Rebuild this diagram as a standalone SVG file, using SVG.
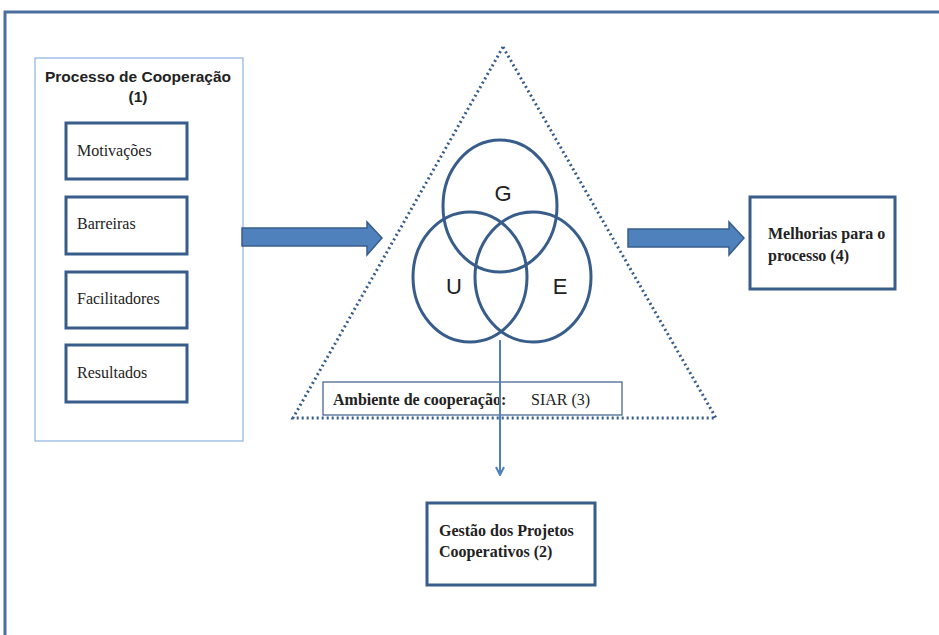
<svg xmlns="http://www.w3.org/2000/svg" width="939" height="635" viewBox="0 0 939 635">
<defs>
<style>
.frame{fill:none;stroke:#4a6f9c;stroke-width:3}
.thin{fill:#fff;stroke:#8db3e2;stroke-width:1.2}
.box{fill:#fff;stroke:#385d8a;stroke-width:3}
.sbox{fill:#fff;stroke:#385d8a;stroke-width:1.2}
.blk{fill:#4f81bd;stroke:#385d8a;stroke-width:1.5}
.ring{fill:none;stroke:#385d8a;stroke-width:3}
.dot{fill:none;stroke:#385d8a;stroke-width:3;stroke-dasharray:2 3}
.t{font-family:"Liberation Serif",serif;font-size:16px;fill:#222}
.tb{font-family:"Liberation Serif",serif;font-size:16px;font-weight:bold;fill:#222}
.ts{font-family:"Liberation Sans",Arial,sans-serif;font-size:15.5px;font-weight:bold;fill:#222}
.L{font-family:"Liberation Sans",Arial,sans-serif;font-size:22px;fill:#222}
</style>
<marker id="ah" markerWidth="10" markerHeight="10" refX="8" refY="5" orient="auto" markerUnits="userSpaceOnUse">
<path d="M1,1 L9,5 L1,9" fill="none" stroke="#4f81bd" stroke-width="2"/>
</marker>
</defs>
<rect width="939" height="635" fill="#fff"/>
<path class="frame" d="M5,640 V12 H945"/>
<g id="processo">
<rect class="thin" x="35" y="58" width="208" height="383"/>
<text class="ts" x="138" y="82" text-anchor="middle">Processo de Cooperação</text>
<text class="ts" x="138" y="102" text-anchor="middle">(1)</text>
</g>
<g id="motivacoes"><rect class="box" x="66" y="123" width="121" height="56"/><text class="t" x="77" y="156">Motivações</text></g>
<g id="barreiras"><rect class="box" x="66" y="197" width="121" height="57"/><text class="t" x="77" y="229">Barreiras</text></g>
<g id="facilitadores"><rect class="box" x="66" y="272" width="121" height="56"/><text class="t" x="77" y="304">Facilitadores</text></g>
<g id="resultados"><rect class="box" x="66" y="345" width="121" height="57"/><text class="t" x="77" y="378">Resultados</text></g>
<g id="ambiente">
<path class="dot" d="M503,47 L293,418 L716,418 Z"/>
<ellipse class="ring" cx="500" cy="206" rx="57" ry="66"/>
<ellipse class="ring" cx="470" cy="277" rx="57" ry="65"/>
<ellipse class="ring" cx="533" cy="277" rx="58" ry="65"/>
<text class="L" x="503" y="201" text-anchor="middle">G</text>
<text class="L" x="454" y="294" text-anchor="middle">U</text>
<text class="L" x="560" y="294" text-anchor="middle">E</text>
<rect class="sbox" x="323" y="382" width="299" height="33"/>
<text class="tb" x="333" y="405">Ambiente de cooperação:</text>
<text class="t" x="531" y="405">SIAR (3)</text>
</g>
<g id="gestao"><rect class="box" x="427" y="503" width="168" height="82"/><text class="tb" x="439" y="536">Gestão dos Projetos</text><text class="tb" x="439" y="557">Cooperativos (2)</text></g>
<g id="melhorias"><rect class="box" x="750" y="197" width="145" height="92"/><text class="tb" x="768" y="239">Melhorias para o</text><text class="tb" x="768" y="261">processo (4)</text></g>
<g id="connectors">
<path class="blk" d="M242,228 H367 V222 L382,238 L367,255 V246 H242 Z"/>
<path class="blk" d="M628,229 H729 V222 L744,238 L729,255 V247 H628 Z"/>
<line x1="500" y1="340" x2="500" y2="474" stroke="#4f81bd" stroke-width="2" marker-end="url(#ah)"/>
</g>
</svg>
